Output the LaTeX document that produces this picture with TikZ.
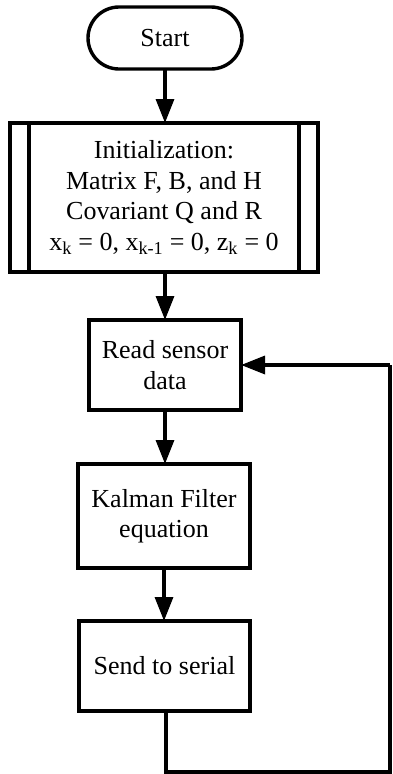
\documentclass[tikz,border=0pt]{standalone}
\usepackage{fontspec}
\setmainfont{Liberation Serif}
\usetikzlibrary{arrows.meta}
\begin{document}
\begin{tikzpicture}[x=1pt,y=-1pt,
  every node/.style={font=\fontsize{26}{30.5}\selectfont, align=center, inner sep=0pt, outer sep=0pt},
  box/.style={draw, line width=3.4pt, rectangle},
  term/.style={draw, line width=3.4pt, rectangle, rounded corners=31pt},
  conn/.style={line width=3.4pt},
  arr/.style={conn, -{Triangle[length=24pt,width=18pt]}}
]
\useasboundingbox (0,0) rectangle (392,774);
\node[term, minimum width=154pt, minimum height=62pt] (start) at (165,38) {Start};
\node[box, minimum width=308pt, minimum height=149pt] (init) at (164,197.5)
  {Initialization:\\Matrix F, B, and H\\Covariant Q and R\\x\textsubscript{k} = 0, x\textsubscript{k-1} = 0, z\textsubscript{k} = 0};
\draw[conn] ([xshift=19pt]init.north west) -- ([xshift=19pt]init.south west);
\draw[conn] ([xshift=-19pt]init.north east) -- ([xshift=-19pt]init.south east);
\node[box, minimum width=152pt, minimum height=90pt] (read) at (165,365) {Read sensor\\data};
\node[box, minimum width=172pt, minimum height=104pt] (kalman) at (164,516) {Kalman Filter\\equation};
\node[box, minimum width=171pt, minimum height=90pt] (send) at (164.5,666) {Send to serial};
\coordinate (c1) at (166,772);
\coordinate (c2) at (390,772);
\draw[arr] (start.south) -- (start.south |- init.north);
\draw[arr] (init.south -| start.south) -- (start.south |- read.north);
\draw[arr] (read.south) -- (read.south |- kalman.north);
\draw[arr] (kalman.south) -- (kalman.south |- send.north);
\draw[conn] (send.south -| c1) -- (c1) -- (c2) -- (c2 |- read.east);
\draw[arr] (c2 |- read.east) -- (read.east);
\end{tikzpicture}
\end{document}
